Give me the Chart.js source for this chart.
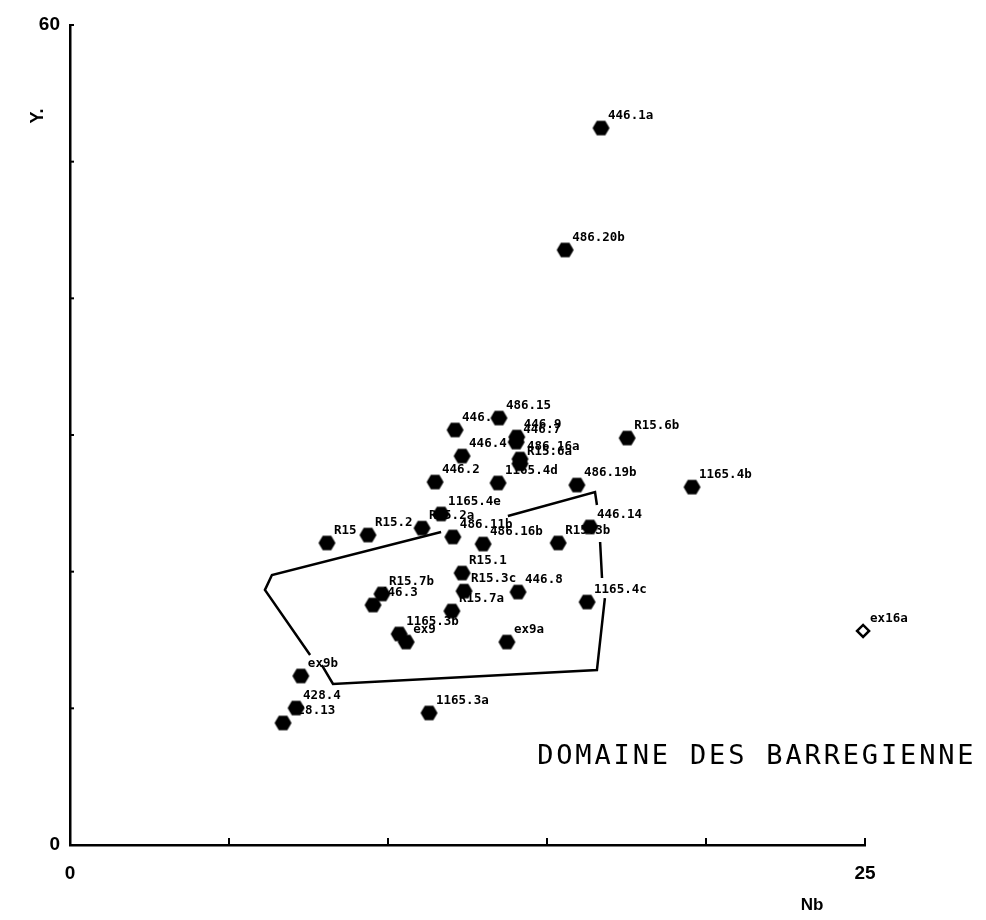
<!DOCTYPE html>
<html>
<head>
<meta charset="utf-8">
<script src="https://cdn.jsdelivr.net/npm/chart.js@4/dist/chart.umd.min.js"></script>
<style>
  html, body { margin: 0; padding: 0; background: #fff; }
  #wrap { width: 986px; height: 920px; }
</style>
</head>
<body>
<div id="wrap"><canvas id="c" width="986" height="920"></canvas></div>
<script>
// Samples plotted as filled hexagons: Nb (x) against Y (y)
const sampleNames = [
  '446.1a', '486.20b', '446.6', '486.15', '446.9', '446.7', '446.4', '486.16a', 'R15.6a',
  '446.2', '1165.4d', '486.19b', 'R15.6b', '1165.4b', '1165.4e', 'R15', 'R15.2', 'R15.2a',
  '486.11b', '486.16b', 'R15.3b', '446.14', 'R15.1', 'R15.3c', '446.8', 'R15.7b', '446.3',
  'R15.7a', '1165.3b', 'ex9', 'ex9a', '1165.4c', 'ex9b', '428.4', '428.13', '1165.3a'
];
const sampleNb = [
  16.70, 15.57, 12.11, 13.49, 14.05, 14.03, 12.33, 14.15, 14.15,
  11.48, 13.46, 15.94, 17.52, 19.56, 11.67, 8.08, 9.37, 11.07,
  12.04, 12.99, 15.35, 16.35, 12.33, 12.39, 14.09, 9.81, 9.53,
  12.01, 10.35, 10.57, 13.74, 16.26, 7.26, 7.11, 6.70, 11.29
];
const sampleY = [
  52.46, 43.54, 30.37, 31.24, 29.85, 29.48, 28.46, 28.24, 27.90,
  26.56, 26.49, 26.34, 29.78, 26.19, 24.22, 22.10, 22.68, 23.19,
  22.54, 22.02, 22.10, 23.27, 19.90, 18.58, 18.51, 18.37, 17.56,
  17.12, 15.44, 14.85, 14.85, 17.78, 12.37, 10.02, 8.93, 9.66
];

// Sample plotted as an open diamond
const openNames = ['ex16a'];
const openNb = [24.94];
const openY = [15.66];

// Outline of the Barrégienne domain (null = break in the line)
const domainNb = [11.67, 6.35, 6.13, 7.55, null, 7.92, 8.27, 16.57, 16.82, null, 16.73, 16.67, null, 16.57, 16.51, 13.77];
const domainY  = [22.90, 19.76, 18.66, 13.90, null, 13.17, 11.78, 12.80, 18.07, null, 19.54, 22.17, null, 24.88, 25.83, 24.07];

const domainTitle = 'DOMAINE DES BARREGIENNE';

const xTicks = [0, 5, 10, 15, 20, 25];
const yTicks = [0, 10, 20, 30, 40, 50, 60];
const xLabelled = [0, 25];
const yLabelled = [0, 60];

// Hexagon marker
function hexMarker(r) {
  const c = document.createElement('canvas');
  const w = Math.ceil(r * 2) + 2, h = Math.ceil(r * Math.sqrt(3)) + 2;
  c.width = w; c.height = h;
  const g = c.getContext('2d');
  g.fillStyle = '#000';
  g.beginPath();
  for (let i = 0; i < 6; i++) {
    const a = Math.PI / 3 * i;
    const px = w / 2 + r * Math.cos(a), py = h / 2 + r * Math.sin(a);
    if (i === 0) g.moveTo(px, py); else g.lineTo(px, py);
  }
  g.closePath();
  g.fill();
  return c;
}
const hex = hexMarker(8.5);

const pts = (xs, ys) => xs.map((x, i) => (x === null ? { x: NaN, y: NaN } : { x: x, y: ys[i] }));

const LABEL_FONT = 'bold 12.5px "DejaVu Sans Mono", "Liberation Mono", monospace';

// Sample names beside each marker, inward tick marks, axis titles and the domain caption
const decorations = {
  id: 'decorations',
  afterDatasetsDraw(chart) {
    const ctx = chart.ctx;
    const xs = chart.scales.x, ys = chart.scales.y;
    ctx.save();
    ctx.fillStyle = '#000';
    ctx.strokeStyle = '#000';

    // inward ticks
    ctx.lineWidth = 2;
    xTicks.forEach(v => {
      const px = xs.getPixelForValue(v);
      ctx.beginPath(); ctx.moveTo(px, ys.bottom); ctx.lineTo(px, ys.bottom - 7); ctx.stroke();
    });
    yTicks.forEach(v => {
      const py = ys.getPixelForValue(v);
      ctx.beginPath(); ctx.moveTo(xs.left, py); ctx.lineTo(xs.left + 4, py); ctx.stroke();
    });

    // point labels
    ctx.font = LABEL_FONT;
    ctx.textBaseline = 'middle';
    ctx.textAlign = 'left';
    [[0, sampleNames], [1, openNames]].forEach(([di, names]) => {
      chart.getDatasetMeta(di).data.forEach((el, i) => {
        ctx.fillText(names[i], el.x + 7, el.y - 12);
      });
    });

    // domain caption
    ctx.font = '27px "DejaVu Sans Mono", monospace';
    ctx.textBaseline = 'middle';
    let cx = xs.getPixelForValue(14.69);
    const cy = ys.getPixelForValue(6.45);
    for (const ch of domainTitle) {
      ctx.fillText(ch, cx, cy);
      cx += 19.1;
    }

    // axis titles
    ctx.font = 'bold 17px "Liberation Sans", Arial, sans-serif';
    ctx.textAlign = 'center';
    ctx.fillText('Nb', 812, 905);
    ctx.save();
    ctx.translate(38, 116);
    ctx.rotate(-Math.PI / 2);
    ctx.font = 'bold 18px "Liberation Sans", Arial, sans-serif';
    ctx.fillText('Y.', 0, 0);
    ctx.restore();

    ctx.restore();
  }
};

new Chart(document.getElementById('c'), {
  type: 'scatter',
  data: {
    datasets: [
      {
        label: 'samples',
        data: pts(sampleNb, sampleY),
        pointStyle: hex,
        pointRadius: 8,
        clip: false,
        order: 1
      },
      {
        label: 'open',
        data: pts(openNb, openY),
        pointStyle: 'rectRot',
        pointRadius: 6,
        pointBackgroundColor: '#fff',
        pointBorderColor: '#000',
        pointBorderWidth: 2.5,
        clip: false,
        order: 1
      },
      {
        label: 'domain',
        data: pts(domainNb, domainY),
        showLine: true,
        spanGaps: false,
        borderColor: '#000',
        borderWidth: 2.5,
        pointRadius: 0,
        fill: false,
        order: 3
      }
    ]
  },
  options: {
    responsive: false,
    devicePixelRatio: 1,
    animation: false,
    events: [],
    layout: { padding: { left: 0, top: 25, right: 121, bottom: 0 } },
    plugins: { legend: { display: false }, tooltip: { enabled: false } },
    scales: {
      x: {
        type: 'linear', min: 0, max: 25,
        afterFit: s => { s.height = 75; },
        grid: { display: false, drawTicks: false },
        border: { display: true, color: '#000', width: 2.5 },
        ticks: {
          stepSize: 5, autoSkip: false, padding: 17, color: '#000',
          font: { family: '"Liberation Sans", Arial, sans-serif', size: 19, weight: 'bold' },
          callback: v => (xLabelled.includes(v) ? String(v) : '')
        }
      },
      y: {
        type: 'linear', min: 0, max: 60,
        afterFit: s => { s.width = 70; },
        grid: { display: false, drawTicks: false },
        border: { display: true, color: '#000', width: 2.5 },
        ticks: {
          stepSize: 10, autoSkip: false, padding: 10, color: '#000',
          font: { family: '"Liberation Sans", Arial, sans-serif', size: 19, weight: 'bold' },
          callback: v => (yLabelled.includes(v) ? String(v) : '')
        }
      }
    }
  },
  plugins: [decorations]
});
</script>
</body>
</html>
